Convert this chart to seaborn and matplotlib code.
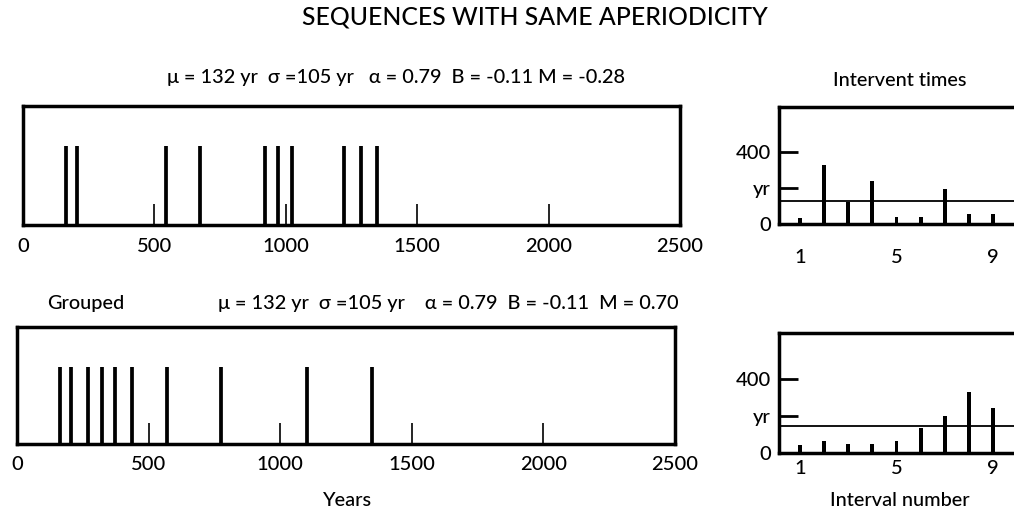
import numpy as np
import pandas as pd
import matplotlib
matplotlib.use("Agg")
import matplotlib.pyplot as plt
import seaborn as sns

# ---------------- data ----------------
events_top = [163, 207, 544, 674, 920, 972, 1023, 1223, 1287, 1348]
events_grouped = [163, 207, 271, 323, 374, 437, 570, 774, 1103, 1348]

interval_number = [1, 2, 3, 4, 5, 6, 7, 8, 9]
intervals_top = [35, 326, 123, 240, 41, 41, 192, 53, 53]
intervals_grouped = [45, 63, 50, 50, 63, 135, 202, 330, 245]
mean_line_top = 129
mean_line_grouped = 148

year_ticks = [0, 500, 1000, 1500, 2000, 2500]
yr_ticks = [0, 200, 400]
yr_ticklabels = ["0", "yr", "400"]
interval_ticks = [1, 5, 9]

title = "SEQUENCES WITH SAME APERIODICITY"
stats_top = "\u03bc = 132 yr  \u03c3 =105 yr   \u03b1 = 0.79  B = -0.11 M = -0.28"
stats_grouped = "\u03bc = 132 yr  \u03c3 =105 yr    \u03b1 = 0.79  B = -0.11  M = 0.70"

# ---------------- style ----------------
sns.set_theme(style="white")
FONT = ["Lato", "DejaVu Sans"]
plt.rcParams["font.family"] = FONT
plt.rcParams["font.weight"] = "medium"
plt.rcParams["text.color"] = "black"
plt.rcParams["xtick.color"] = "black"
plt.rcParams["ytick.color"] = "black"

W, H = 1014, 516
fig = plt.figure(figsize=(W / 100, H / 100), dpi=100)
fig.patch.set_facecolor("white")


def px_axes(left, top, right, bottom):
    return fig.add_axes([left / W, 1 - bottom / H, (right - left) / W, (bottom - top) / H])


SPINE_LW = 2.5
TICK_FS = 14.5


def timeline(ax, events):
    sns.rugplot(x=events, height=0.66, ax=ax, color="black", linewidth=2.7,
                expand_margins=False)
    ax.set_xlim(0, 2500)
    ax.set_ylim(0, 1)
    ax.set_yticks([])
    ax.set_xticks(year_ticks)
    ax.set_xticklabels([str(t) for t in year_ticks])
    ax.tick_params(axis="x", direction="in", length=15, width=1.2, pad=9,
                   labelsize=TICK_FS, bottom=True)
    for s in ax.spines.values():
        s.set_visible(True)
        s.set_linewidth(SPINE_LW)
        s.set_color("black")
    ax.set_xlabel("")
    ax.set_ylabel("")


def interval_panel(ax, values, mean_val, xpad):
    df = pd.DataFrame({"n": interval_number, "t": values})
    sns.barplot(data=df, x="n", y="t", native_scale=True, width=0.16,
                color="black", saturation=1, ax=ax, linewidth=0)
    ax.axhline(mean_val, color="black", lw=1.3)
    ax.set_xlim(0.132, 9.87)
    ax.set_ylim(0, 650)
    ax.set_yticks(yr_ticks)
    ax.set_yticklabels(yr_ticklabels)
    ax.set_xticks(interval_ticks)
    ax.set_xticklabels([str(t) for t in interval_ticks])
    ax.tick_params(axis="y", direction="in", length=14, width=2, pad=6,
                   labelsize=TICK_FS, left=True)
    ax.tick_params(axis="x", length=0, pad=xpad, labelsize=TICK_FS)
    for name, s in ax.spines.items():
        s.set_linewidth(SPINE_LW)
        s.set_color("black")
    ax.spines["right"].set_visible(False)
    ax.set_xlabel("")
    ax.set_ylabel("")


ax1 = px_axes(23, 106, 680, 225)
timeline(ax1, events_top)
ax2 = px_axes(17, 327, 675, 444)
timeline(ax2, events_grouped)

ax3 = px_axes(779, 107, 1014, 224)
interval_panel(ax3, intervals_top, mean_line_top, xpad=18)
ax4 = px_axes(779, 333, 1014, 453)
interval_panel(ax4, intervals_grouped, mean_line_grouped, xpad=5)


def ftext(x, y, s, size, **kw):
    fig.text(x / W, 1 - y / H, s, fontsize=size, ha=kw.pop("ha", "center"),
             va=kw.pop("va", "center"), family=FONT, **kw)


ftext(535, 17, title, 17.8)
ftext(396, 78, stats_top, 14.3)
ftext(448, 303, stats_grouped, 14.3)
ftext(86, 303, "Grouped", 14.3)
ftext(900, 80, "Intervent times", 14.3)
ftext(348, 500, "Years", 14.3)
ftext(900, 500, "Interval number", 14.3)

fig.savefig("out.png", dpi=100, facecolor="white")
